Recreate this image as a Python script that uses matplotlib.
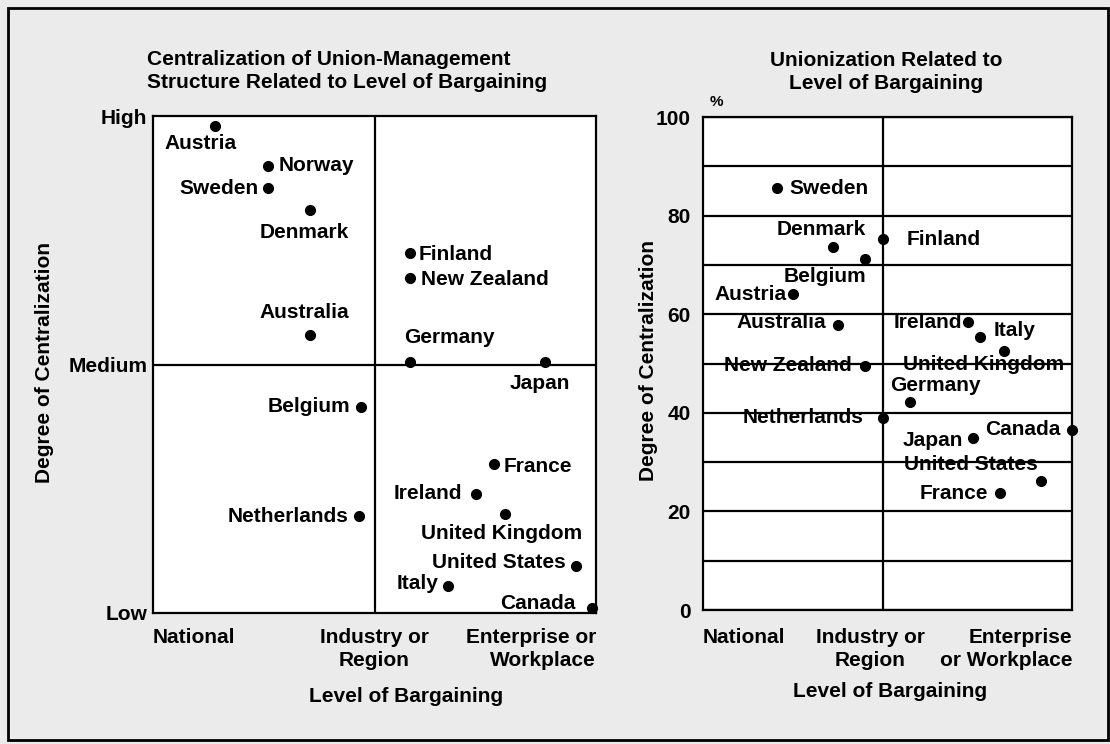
import matplotlib
matplotlib.use("Agg")
import matplotlib.pyplot as plt
from matplotlib.patches import Rectangle

plt.rcParams['font.family'] = ['Liberation Sans', 'DejaVu Sans']
plt.rcParams['font.weight'] = 'bold'
plt.rcParams['font.size'] = 15

# left chart: centralization (0 low, 1 medium, 2 high) vs level (0 national .. 2 enterprise)
left_countries = ['Austria', 'Norway', 'Sweden', 'Denmark', 'Finland', 'New Zealand',
                  'Australia', 'Germany', 'Japan', 'Belgium', 'France', 'Ireland',
                  'United Kingdom', 'Netherlands', 'United States', 'Italy', 'Canada']
left_x = [0.28, 0.52, 0.52, 0.71, 1.16, 1.16, 0.71, 1.16, 1.77, 0.94, 1.54, 1.46,
          1.59, 0.93, 1.91, 1.33, 1.98]
left_y = [1.96, 1.80, 1.71, 1.62, 1.45, 1.35, 1.12, 1.01, 1.01, 0.83, 0.60, 0.48,
          0.40, 0.39, 0.19, 0.11, 0.02]
left_yticklabels = ['Low', 'Medium', 'High']
left_xticklabels = ['National', 'Industry or\nRegion', 'Enterprise or\nWorkplace']

# right chart: unionization % vs level of bargaining (1 = industry/region divider)
right_countries = ['Sweden', 'Denmark', 'Finland', 'Belgium', 'Austria', 'Australia',
                   'Ireland', 'Italy', 'United Kingdom', 'New Zealand', 'Germany',
                   'Netherlands', 'Canada', 'Japan', 'United States', 'France']
right_x = [0.41, 0.72, 1.0, 0.90, 0.50, 0.75, 1.47, 1.54, 1.67, 0.90, 1.15, 1.0,
           2.05, 1.50, 1.88, 1.65]
right_y = [85.5, 73.7, 75.3, 71.2, 64.0, 57.8, 58.4, 55.4, 52.6, 49.5, 42.1, 39.0,
           36.5, 34.8, 26.2, 23.7]
right_xticklabels = ['National', 'Industry or\nRegion', 'Enterprise\nor Workplace']

# label placement (pixel offsets, alignment)
left_offsets = {
    'Austria': (-14, -18, 'center'), 'Norway': (10, 0, 'left'),
    'Sweden': (-10, 0, 'right'), 'Denmark': (-6, -22, 'center'),
    'Finland': (9, -2, 'left'), 'New Zealand': (11, -2, 'left'),
    'Australia': (-6, 22, 'center'), 'Germany': (-6, 25, 'left'),
    'Japan': (-5, -21, 'center'), 'Belgium': (-11, 0, 'right'),
    'France': (10, -3, 'left'), 'Ireland': (-14, 0, 'right'),
    'United Kingdom': (-4, -20, 'center'), 'Netherlands': (-10, 0, 'right'),
    'United States': (-10, 3, 'right'), 'Italy': (-9, 2, 'right'),
    'Canada': (-16, 5, 'right'),
}
right_offsets = {
    'Sweden': (13, 0, 'left'), 'Denmark': (-11, 17, 'center'),
    'Finland': (24, -1, 'left'), 'Belgium': (-40, -18, 'center'),
    'Austria': (-6, 0, 'right'), 'Australia': (-12, 3, 'right'),
    'Ireland': (-5, 0, 'right'), 'Italy': (13, 6, 'left'),
    'United Kingdom': (-20, -14, 'center'), 'New Zealand': (-13, 0, 'right'),
    'Germany': (-20, 17, 'left'), 'Netherlands': (-20, 0, 'right'),
    'Canada': (-12, 1, 'right'), 'Japan': (-10, -2, 'right'),
    'United States': (-4, 16, 'right'), 'France': (-12, 0, 'right'),
}

W, H = 1110, 744
fig = plt.figure(figsize=(W / 100, H / 100), dpi=100, facecolor='#ebebeb')

def fx(px):
    return px / W

def fy(py):
    return 1 - py / H

# ---- left chart ----
ax1 = fig.add_axes([fx(153), fy(613), (596 - 153) / W, (613 - 116) / H])
ax1.set_xlim(0, 2)
ax1.set_ylim(0, 2)
ax1.axvline(1, color='black', lw=1.6)
ax1.axhline(1, color='black', lw=1.6)
ax1.plot(left_x, left_y, 'o', color='black', ms=7, clip_on=False)
for name, x, y in zip(left_countries, left_x, left_y):
    dx, dy, ha = left_offsets[name]
    ax1.annotate(name, (x, y), xytext=(dx, dy), textcoords='offset pixels',
                 ha=ha, va='center')
ax1.set_yticks([0, 1, 2])
ax1.set_yticklabels(left_yticklabels)
ax1.set_xticks([0, 1, 2])
ax1.set_xticklabels(left_xticklabels, linespacing=1.25)
for lab, ha in zip(ax1.get_xticklabels(), ['left', 'center', 'right']):
    lab.set_ha(ha)
ax1.tick_params(length=0, pad=4, labelsize=15)
ax1.tick_params(axis='x', pad=11)
ax1.text(-0.244, 0.505, 'Degree of Centralization', transform=ax1.transAxes,
         rotation=90, ha='center', va='center')
ax1.text(0.571, -0.169, 'Level of Bargaining', transform=ax1.transAxes,
         ha='center', va='center')

# ---- right chart ----
ax2 = fig.add_axes([fx(703), fy(610), (1072 - 703) / W, (610 - 117) / H])
ax2.set_xlim(0, 2.05)
ax2.set_ylim(0, 100)
ax2.set_yticks(range(0, 101, 20))
ax2.set_yticks(range(10, 100, 20), minor=True)
ax2.grid(axis='y', which='both', color='black', lw=1.6)
ax2.axvline(1, color='black', lw=1.6)
ax2.plot(right_x, right_y, 'o', color='black', ms=7, clip_on=False, zorder=3)
for name, x, y in zip(right_countries, right_x, right_y):
    dx, dy, ha = right_offsets[name]
    ax2.annotate(name, (x, y), xytext=(dx, dy), textcoords='offset pixels',
                 ha=ha, va='center')
ax2.set_xticks([0, 0.93, 2.05])
ax2.set_xticklabels(right_xticklabels, linespacing=1.25)
for lab, ha in zip(ax2.get_xticklabels(), ['left', 'center', 'right']):
    lab.set_ha(ha)
ax2.tick_params(which='both', length=0, pad=9, labelsize=15)
ax2.tick_params(axis='x', pad=13)
ax2.text(-0.149, 0.507, 'Degree of Centralization', transform=ax2.transAxes,
         rotation=90, ha='center', va='center')
ax2.text(0.507, -0.166, 'Level of Bargaining', transform=ax2.transAxes,
         ha='center', va='center')
ax2.text(0.035, 1.03, '%', transform=ax2.transAxes, ha='center', va='center',
         fontsize=11)

for ax in (ax1, ax2):
    ax.set_facecolor('white')
    for s in ax.spines.values():
        s.set_linewidth(1.6)

# titles
fig.text(fx(147), fy(71), 'Centralization of Union-Management\n'
         'Structure Related to Level of Bargaining',
         ha='left', va='center', linespacing=1.25)
fig.text(fx(886), fy(72), 'Unionization Related to\nLevel of Bargaining',
         ha='center', va='center', linespacing=1.25)

# outer frame
fig.patches.append(Rectangle((fx(8), fy(740)), fx(1100), (740 - 8) / H,
                             transform=fig.transFigure, fill=False,
                             edgecolor='black', lw=2))

fig.savefig('out.png', dpi=100, facecolor=fig.get_facecolor())
